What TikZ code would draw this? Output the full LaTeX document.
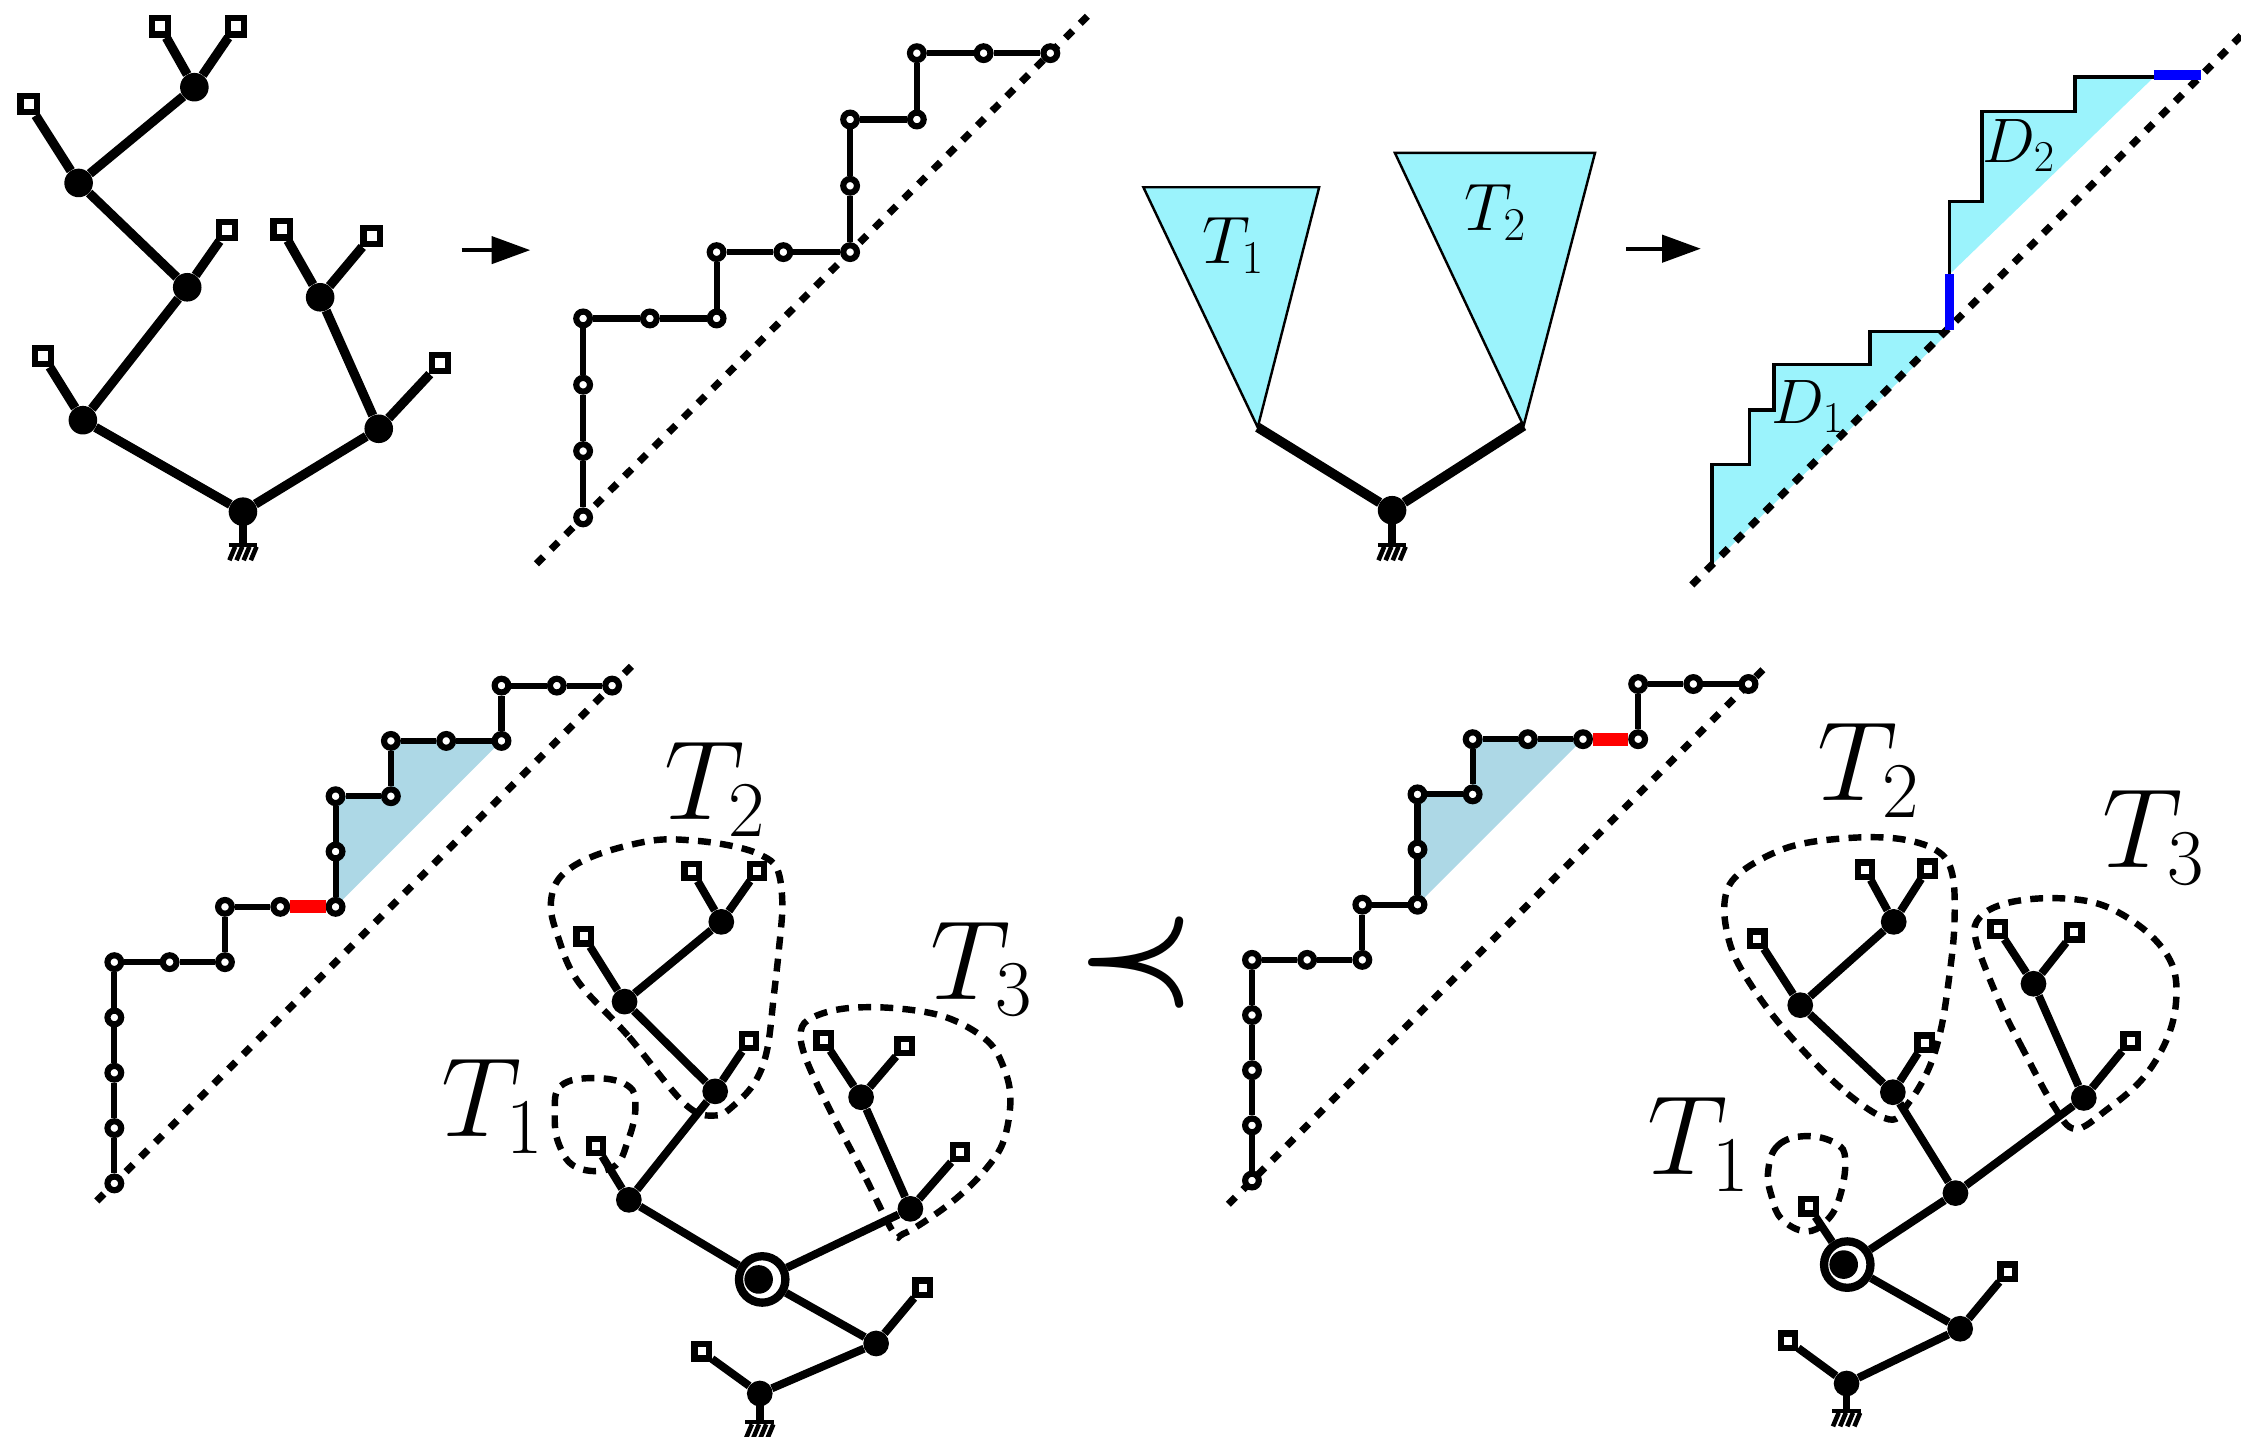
\RequirePackage{fix-cm}
\documentclass[tikz,border=0pt]{standalone}
\usetikzlibrary{arrows.meta,calc}
\definecolor{cyanfill}{RGB}{155,243,252}
\definecolor{lblue}{RGB}{173,216,230}
\tikzset{
  edgeA/.style={line width=6.5pt},
  edgeB/.style={line width=5.6pt},
  edgeT/.style={line width=6.8pt},
  dotA/.style={circle,fill=black,inner sep=0pt,minimum size=20pt},
  dotB/.style={circle,fill=black,inner sep=0pt,minimum size=18pt},
  leafA/.style={rectangle,draw,fill=white,line width=4.3pt,inner sep=0pt,minimum size=11.3pt},
  leafB/.style={rectangle,draw,fill=white,line width=4.4pt,inner sep=0pt,minimum size=10pt},
  ringB/.style={circle,draw,line width=5.8pt,inner sep=0pt,minimum size=32.5pt},
  ringdot/.style={circle,fill=black,inner sep=0pt,minimum size=20pt},
  lat/.style={circle,draw,fill=white,line width=4.3pt,inner sep=0pt,minimum size=9.6pt},
  dpath/.style={line width=4.3pt},
  stair/.style={line width=2.6pt,line join=miter},
  diag/.style={line width=5pt,dash pattern=on 7pt off 7.5pt},
  loopd/.style={line width=4.5pt,dash pattern=on 9pt off 6.5pt},
  redseg/.style={line width=9pt,red},
  blueseg/.style={line width=6.5pt,blue},
  arr/.style={line width=2.6pt,-{Triangle[length=27pt,width=19pt]}},
  tri/.style={fill=cyanfill,draw=black,line width=1.7pt,line join=miter},
  bigl/.style={anchor=base west,inner sep=0pt,font=\fontsize{79}{90}\selectfont},
  midl/.style={anchor=base west,inner sep=0pt,font=\fontsize{47}{56}\selectfont},
  dl/.style={anchor=base west,inner sep=0pt,font=\fontsize{44}{52}\selectfont},
}
\newcommand{\groundmark}[2]{%
  \draw[line width=5.5pt] (#1.center) -- ++(0,#2) coordinate (#1-g);
  \draw[line width=2.8pt] ([xshift=-10pt]#1-g) -- ([xshift=10pt]#1-g);
  \foreach \d in {-7.5,-2.5,2.5,7.5}{\draw[line width=3.2pt] ([shift={(\d+2,1.5)}]#1-g) -- ([shift={(\d-2,11)}]#1-g);}
}
\begin{document}
\begin{tikzpicture}[x=1pt,y=-1pt]
\useasboundingbox (0,0) rectangle (1568,1005);

% ---------------- top-left tree ----------------
\node[dotA] (aR) at (170,358) {};
\node[dotA] (aL) at (58,294) {};
\node[dotA] (aRr) at (265,300) {};
\node[leafA] (aLl) at (30,249) {};
\node[dotA] (aA) at (131,201) {};
\node[leafA] (aAl) at (159,161) {};
\node[dotA] (aB) at (55,128) {};
\node[leafA] (aBl) at (20,73) {};
\node[dotA] (aC) at (136,61) {};
\node[leafA] (aCl1) at (112,18.5) {};
\node[leafA] (aCl2) at (165,18.5) {};
\node[leafA] (aRrl) at (308,254) {};
\node[dotA] (aE) at (224,208) {};
\node[leafA] (aEl1) at (197,160.5) {};
\node[leafA] (aEl2) at (260,165) {};
\foreach \p/\q in {aR/aL,aR/aRr,aL/aLl,aL/aA,aA/aAl,aA/aB,aB/aBl,aB/aC,aC/aCl1,aC/aCl2,aRr/aRrl,aRr/aE,aE/aEl1,aE/aEl2}
  \draw[edgeA] (\p) -- (\q);
\groundmark{aR}{23}

% arrow 1
\coordinate (ar1s) at (323,175);
\coordinate (ar1e) at (371,175);
\draw[arr] (ar1s) -- (ar1e);

% ---------------- top Dyck path ----------------
\coordinate (dg1a) at (375.3,394.5);
\coordinate (dg1b) at (764.3,7.9);
\draw[diag] (dg1a) -- (dg1b);
\foreach \a/\b [count=\k] in {0/0,0/1,0/2,0/3,1/3,2/3,2/4,3/4,4/4,4/5,4/6,5/6,5/7,6/7,7/7}
  \node[lat] (u\k) at ({408+46.7*\a},{362-46.4*\b}) {};
\foreach \k [remember=\k as \j (initially 1)] in {2,...,15}
  \draw[dpath] (u\j) -- (u\k);

% ---------------- triangles ----------------
\coordinate (t1a) at (800,131);
\coordinate (t1b) at (923,131);
\coordinate (t1v) at (880,299);
\coordinate (t2a) at (976,107);
\coordinate (t2b) at (1116,107);
\coordinate (t2v) at (1066,298);
\draw[tri] (t1a) -- (t1b) -- (t1v) -- cycle;
\draw[tri] (t2a) -- (t2b) -- (t2v) -- cycle;
\node[dotA] (tR) at (974,357) {};
\draw[edgeT] (t1v) -- (tR);
\draw[edgeT] (t2v) -- (tR);
\groundmark{tR}{24}
\node[midl] (lT1) at (841.5,184.2) {$T_1$};
\node[midl] (lT2) at (1024.8,161) {$T_2$};

% arrow 2
\coordinate (ar2s) at (1138,174);
\coordinate (ar2e) at (1190,174);
\draw[arr] (ar2s) -- (ar2e);

% ---------------- D staircase ----------------
\coordinate (d0) at (1198,395);
\coordinate (d1) at (1198,325);
\coordinate (d2) at (1224,325);
\coordinate (d3) at (1224,287);
\coordinate (d4) at (1241,287);
\coordinate (d5) at (1241,255);
\coordinate (d6) at (1308.5,255);
\coordinate (d7) at (1308.5,232);
\coordinate (d8) at (1364,232);
\coordinate (e0) at (1364,192);
\coordinate (e1) at (1364,141);
\coordinate (e2) at (1387,141);
\coordinate (e3) at (1387,78);
\coordinate (e4) at (1452,78);
\coordinate (e5) at (1452,54);
\coordinate (e6) at (1507,54);
\coordinate (bl1) at (1364,231);
\coordinate (bl2) at (1364,192);
\coordinate (bh1) at (1507,52.5);
\coordinate (bh2) at (1540,52.5);
\fill[cyanfill] (d0) -- (d1) -- (d2) -- (d3) -- (d4) -- (d5) -- (d6) -- (d7) -- (d8) -- cycle;
\fill[cyanfill] (e0) -- (e1) -- (e2) -- (e3) -- (e4) -- (e5) -- (e6) -- cycle;
\coordinate (dgDa) at (1183.7,409.3);
\coordinate (dgDb) at (1568,25);
\draw[diag] (dgDa) -- (dgDb);
\draw[stair] (d0) -- (d1) -- (d2) -- (d3) -- (d4) -- (d5) -- (d6) -- (d7) -- (d8);
\draw[stair] (e0) -- (e1) -- (e2) -- (e3) -- (e4) -- (e5) -- (e6);
\draw[blueseg] (bl1) -- (bl2);
\draw[blueseg] (bh1) -- (bh2);
\node[dl] (lD1) at (1239.5,296.2) {$D_1$};
\node[dl] (lD2) at (1387,113.5) {$D_2$};

% ---------------- bottom-left Dyck path ----------------
\foreach \a/\b [count=\k] in {0/0,0/1,0/2,0/3,0/4,1/4,2/4,2/5,3/5,4/5,4/6,4/7,5/7,5/8,6/8,7/8,7/9,8/9,9/9}
  \coordinate (cv\k) at ({80+38.7*\a},{828-38.7*\b});
\fill[lblue] (cv10) -- (cv12) -- (cv13) -- (cv14) -- (cv16) -- cycle;
\coordinate (dg2a) at (67.7,840.3);
\coordinate (dg2b) at (442.6,465.4);
\draw[diag] (dg2a) -- (dg2b);
\foreach \k in {1,...,19} \node[lat] (v\k) at (cv\k) {};
\foreach \k [remember=\k as \j (initially 1)] in {2,...,19}
  \draw[dpath] (v\j) -- (v\k);
\draw[redseg] (v9) -- (v10);

% ---------------- bottom-left tree ----------------
\node[dotB] (bR) at (531.6,975) {};
\node[dotB] (bP) at (613,940) {};
\node[leafB] (bPl) at (645.5,901) {};
\node[leafB] (bRl) at (491,945.6) {};
\node[ringB] (bC) at (533.3,895.2) {};
\node[ringdot] (bCd) at (530.8,895.2) {};
\node[dotB] (bLf) at (440,839.5) {};
\node[leafB] (bT1l) at (417,801.8) {};
\node[dotB] (bN1) at (500.4,763.6) {};
\node[leafB] (bN1l) at (524,728.5) {};
\node[dotB] (bN2) at (437,700.8) {};
\node[leafB] (bN2l) at (408.4,655.2) {};
\node[dotB] (bN3) at (504.7,645) {};
\node[leafB] (bN3l1) at (484,609.3) {};
\node[leafB] (bN3l2) at (529.8,609.3) {};
\node[dotB] (bT3b) at (637,845.8) {};
\node[dotB] (bT3a) at (602.5,767.7) {};
\node[leafB] (bT3al1) at (576.2,727.9) {};
\node[leafB] (bT3al2) at (633,732) {};
\node[leafB] (bT3bl) at (671.8,806) {};
\foreach \p/\q in {bR/bRl,bR/bP,bP/bPl,bP/bC,bC/bLf,bC/bT3b,bLf/bT1l,bLf/bN1,bN1/bN1l,bN1/bN2,bN2/bN2l,bN2/bN3,bN3/bN3l1,bN3/bN3l2,bT3b/bT3bl,bT3b/bT3a,bT3a/bT3al1,bT3a/bT3al2}
  \draw[edgeB] (\p) -- (\q);
\groundmark{bR}{20}
\draw[loopd] plot[smooth cycle,tension=0.7] coordinates {(388.2,778.9) (392.5,759.7) (416,754.3) (439.4,759.7) (444.6,774.5) (439.4,798) (428.8,816.7) (404.2,817.1) (391.3,801.2)};
\draw[loopd] plot[smooth cycle,tension=0.6] coordinates {(479.3,772.5) (439.4,724.7) (404.2,686.4) (390.1,654.5) (385.4,632.2) (392.5,613.1) (416,598.7) (455.8,588.2) (486.3,588.2) (514.5,592.4) (533.3,598.7) (543.9,608.3) (547.4,632.2) (545,664.1) (541.5,696) (536.8,734.2) (528.6,756.5) (514.5,772.5) (500.4,780.5)};
\draw[loopd] plot[smooth cycle,tension=0.6] coordinates {(624.8,861.8) (603.7,820.3) (580.2,775.7) (563.8,740.6) (560.3,721.5) (568.5,711.9) (592,705.5) (627.2,705.5) (662.4,711.9) (690.5,727.9) (702.3,747) (707,769.3) (702.3,798) (690.5,817.1) (671.8,836.2) (650.7,852.2) (631.9,863.3)};
\node[bigl] (bl2) at (464.4,573.2) {$T_2$};
\node[bigl] (bl3) at (651,699) {$T_3$};
\node[bigl] (bl1) at (308.5,795.3) {$T_1$};

% prec
\node[inner sep=0pt,font=\fontsize{95}{100}\selectfont\boldmath] (prec) at (795,673.5) {$\prec$};

% ---------------- bottom-right Dyck path ----------------
\foreach \a/\b [count=\k] in {0/0,0/1,0/2,0/3,0/4,1/4,2/4,2/5,3/5,3/6,3/7,4/7,4/8,5/8,6/8,7/8,7/9,8/9,9/9}
  \coordinate (cw\k) at ({876+38.6*\a},{826-38.6*\b});
\fill[lblue] (cw9) -- (cw11) -- (cw12) -- (cw13) -- (cw15) -- cycle;
\coordinate (dg3a) at (859.4,842.6);
\coordinate (dg3b) at (1233.6,468.4);
\draw[diag] (dg3a) -- (dg3b);
\foreach \k in {1,...,19} \node[lat] (w\k) at (cw\k) {};
\foreach \k [remember=\k as \j (initially 1)] in {2,...,19}
  \draw[dpath] (w\j) -- (w\k);
\draw[redseg] (w15) -- (w16);

% ---------------- bottom-right tree ----------------
\node[dotB] (cR) at (1292,968) {};
\node[dotB] (cP) at (1371.5,929.7) {};
\node[leafB] (cPl) at (1404.8,889.8) {};
\node[leafB] (cRl) at (1251,938) {};
\node[ringB] (cC) at (1292.5,884.8) {};
\node[ringdot] (cCd) at (1290,884.8) {};
\node[leafB] (cT1l) at (1265.4,844.1) {};
\node[dotB] (cQ) at (1368.2,834.8) {};
\node[dotB] (cN1) at (1324.4,764.2) {};
\node[leafB] (cN1l) at (1346.6,729.6) {};
\node[dotB] (cN2) at (1259.6,703.3) {};
\node[leafB] (cN2l) at (1229.6,656.7) {};
\node[dotB] (cN3) at (1325,645) {};
\node[leafB] (cN3l1) at (1305,608.4) {};
\node[leafB] (cN3l2) at (1348.8,607.7) {};
\node[dotB] (cT3b) at (1458,768.2) {};
\node[leafB] (cT3bl) at (1490.7,728.3) {};
\node[dotB] (cT3a) at (1422.8,688.3) {};
\node[leafB] (cT3al1) at (1397.8,650) {};
\node[leafB] (cT3al2) at (1451.3,652.3) {};
\foreach \p/\q in {cR/cRl,cR/cP,cP/cPl,cP/cC,cC/cT1l,cC/cQ,cQ/cN1,cQ/cT3b,cN1/cN1l,cN1/cN2,cN2/cN2l,cN2/cN3,cN3/cN3l1,cN3/cN3l2,cT3b/cT3bl,cT3b/cT3a,cT3a/cT3al1,cT3a/cT3al2}
  \draw[edgeB] (\p) -- (\q);
\groundmark{cR}{19}
\draw[loopd] plot[smooth cycle,tension=0.7] coordinates {(1237.1,819.8) (1244,801.5) (1263.4,794.9) (1284.2,799.9) (1291.1,811.5) (1287,838.2) (1277.3,854.8) (1263.4,861.5) (1246.8,853.1) (1239.9,838.2)};
\draw[loopd] plot[smooth cycle,tension=0.6] coordinates {(1321.6,783.2) (1288.4,761.6) (1249.6,721.6) (1224.6,688.3) (1210.8,661.7) (1206.6,631.7) (1216.3,611.7) (1249.6,593.4) (1288.4,586.7) (1327.2,586.7) (1354.9,595) (1366,611.7) (1367.4,648.3) (1363.2,688.3) (1357.7,721.6) (1349.3,748.2) (1335.5,771.6)};
\draw[loopd] plot[smooth cycle,tension=0.6] coordinates {(1436.6,773.2) (1415.8,734.9) (1399.2,701.6) (1382.6,658.3) (1385.4,641.7) (1404.8,631.7) (1438,628.4) (1471.3,633.4) (1501.8,651.7) (1519.8,675) (1522.5,701.6) (1515.6,728.3) (1499,754.9) (1474,776.5) (1451.9,789.9)};
\node[bigl] (cl2) at (1271.5,560.1) {$T_2$};
\node[bigl] (cl3) at (1471,606.7) {$T_3$};
\node[bigl] (cl1) at (1152.4,821.5) {$T_1$};
\end{tikzpicture}
\end{document}
